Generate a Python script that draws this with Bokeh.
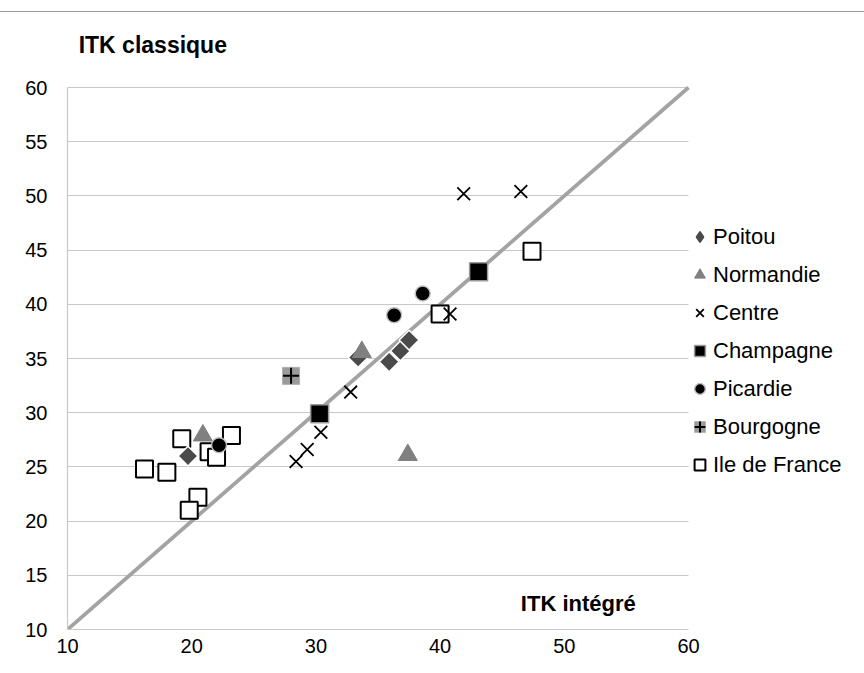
import math
from bokeh.plotting import figure
from bokeh.models import (Legend, LegendItem, Label, FixedTicker, Range1d)
from bokeh.embed import file_html
from bokeh.resources import INLINE

# ---- data (ITK intégré = x, ITK classique = y) ----
poitou_x = [19.7, 33.4, 35.9, 36.8, 37.5]
poitou_y = [26.0, 35.1, 34.7, 35.7, 36.7]

normandie_x = [20.9, 33.7, 37.4]
normandie_y = [27.9, 35.6, 26.1]

centre_x = [28.4, 29.3, 30.4, 32.8, 40.8, 41.9, 46.5]
centre_y = [25.5, 26.6, 28.2, 31.9, 39.1, 50.2, 50.4]

champagne_x = [30.3, 43.1]
champagne_y = [29.9, 43.0]

picardie_x = [22.2, 36.3, 38.6]
picardie_y = [27.0, 39.0, 41.0]

bourgogne_x = [28.0]
bourgogne_y = [33.4]

idf_x = [16.2, 18.0, 19.2, 21.4, 22.0, 23.2, 20.5, 19.8, 40.0, 47.4]
idf_y = [24.8, 24.5, 27.6, 26.4, 25.9, 27.9, 22.2, 21.0, 39.1, 44.9]

diag = [10, 60]
x_ticks = [10, 20, 30, 40, 50, 60]
y_ticks = [10, 15, 20, 25, 30, 35, 40, 45, 50, 55, 60]

FONT = "Liberation Sans"

# the 10..60 axes take 621 x 542 px; the frame is widened to the right and
# upwards so the legend and the axis title can sit inside it, while the
# axes and grid are bounded to 10..60
W, LEFT = 864, 67
x_end = 10 + 50 * (W - LEFT) / 621
y_end = 66

p = figure(width=W, height=650, output_backend="svg", toolbar_location=None,
           x_range=Range1d(10, x_end), y_range=Range1d(10, y_end),
           min_border_left=LEFT, min_border_right=0, min_border_top=10,
           min_border_bottom=33)
p.outline_line_color = None
p.background_fill_color = "white"
p.border_fill_color = "white"
p.styles = {"border-top": "1px solid #999999", "margin-top": "11px"}

p.xgrid.grid_line_color = None
p.ygrid.grid_line_color = "#c8c8c8"
p.ygrid.grid_line_width = 1.2
p.ygrid.cross_bounds = (10, 60)
p.xaxis.ticker = FixedTicker(ticks=x_ticks)
p.yaxis.ticker = FixedTicker(ticks=y_ticks)
p.xaxis.bounds = (10, 60)
p.yaxis.bounds = (10, 60)
for ax in (p.xaxis[0], p.yaxis[0]):
    ax.axis_line_color = "#c8c8c8"
    ax.axis_line_width = 1.2
    ax.major_tick_line_color = None
    ax.minor_tick_line_color = None
    ax.major_label_text_font = FONT
    ax.major_label_text_font_size = "20px"
    ax.major_label_text_color = "black"
p.xaxis.major_label_standoff = 3
p.yaxis.major_label_standoff = 14

# diagonal y = x
p.line(diag, diag, line_color="#a3a3a3", line_width=3.8)

r_idf = p.scatter(idf_x, idf_y, marker="square", size=17, fill_color="white",
                  line_color="black", line_width=2)
r_poi = p.scatter(poitou_x, poitou_y, marker="square", size=14, angle=math.pi / 4,
                  fill_color="#4a4a4a", line_color="white", line_width=1.5)
# legend swatch for Poitou (hidden copy of the series drawn as a diamond)
r_poi_leg = p.scatter(poitou_x, poitou_y, marker="diamond", size=16,
                      fill_color="#4a4a4a", line_color="#4a4a4a", line_width=1.5,
                      visible=False)
r_nor = p.scatter(normandie_x, normandie_y, marker="triangle", size=19,
                  fill_color="#808080", line_color="#808080", line_width=1)
r_cen = p.scatter(centre_x, centre_y, marker="x", size=18, line_color="black",
                  line_width=1.8)
r_cha = p.scatter(champagne_x, champagne_y, marker="square", size=18,
                  fill_color="black", line_color="#9a9a9a", line_width=1.5)
r_pic = p.scatter(picardie_x, picardie_y, marker="circle", size=15,
                  fill_color="black", line_color="#c0c0c0", line_width=1.5)
r_bou = p.scatter(bourgogne_x, bourgogne_y, marker="square", size=17,
                  fill_color="#9a9a9a", line_color="#b0b0b0", line_width=1)
r_bou2 = p.scatter(bourgogne_x, bourgogne_y, marker="cross", size=16,
                   line_color="black", line_width=2)

legend = Legend(items=[
    LegendItem(label="Poitou", renderers=[r_poi_leg]),
    LegendItem(label="Normandie", renderers=[r_nor]),
    LegendItem(label="Centre", renderers=[r_cen]),
    LegendItem(label="Champagne", renderers=[r_cha]),
    LegendItem(label="Picardie", renderers=[r_pic]),
    LegendItem(label="Bourgogne", renderers=[r_bou, r_bou2]),
    LegendItem(label="Ile de France", renderers=[r_idf]),
], location=(619, 151))
legend.border_line_color = None
legend.background_fill_alpha = 0
legend.label_text_font = FONT
legend.label_text_font_size = "22px"
legend.label_text_color = "black"
legend.glyph_width = 27
legend.glyph_height = 27
legend.label_height = 27
legend.spacing = 11
legend.label_standoff = 0
legend.padding = 2
legend.margin = 0
p.add_layout(legend, "center")

p.add_layout(Label(x=10.9, y=63.9, text="ITK classique", text_font=FONT,
                   text_font_size="23px", text_font_style="bold",
                   text_baseline="middle", text_color="black"))
p.add_layout(Label(x=46.5, y=12.4, text="ITK  intégré", text_font=FONT,
                   text_font_size="22px", text_font_style="bold",
                   text_baseline="middle", text_color="black"))

open("out.html", "w").write(file_html(p, INLINE))
